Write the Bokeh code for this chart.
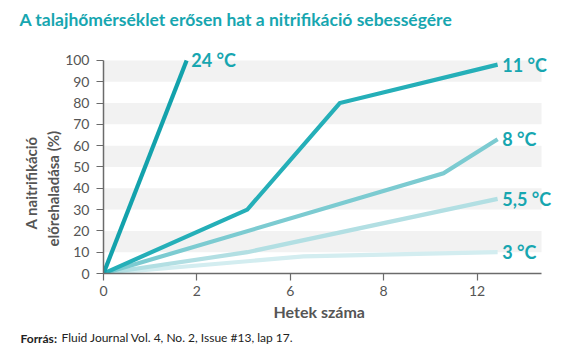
from bokeh.plotting import figure
from bokeh.models import Range1d, FixedTicker, Label, BoxAnnotation, Title
from bokeh.embed import file_html
from bokeh.resources import INLINE

# ---- data ----
x_tick_pos = [0, 1, 2, 3, 4]
x_tick_labels = ["0", "2", "6", "8", "12"]
y_ticks = [0, 10, 20, 30, 40, 50, 60, 70, 80, 90, 100]

series_names = ["24 °C", "11 °C", "8 °C", "5,5 °C", "3 °C"]
s24_x = [0, 0.89]
s24_y = [0, 100]
s11_x = [0, 1.54, 2.53, 4.22]
s11_y = [0, 30, 80, 98]
s8_x = [0, 3.64, 4.22]
s8_y = [0, 47, 63]
s55_x = [0, 1.54, 4.22]
s55_y = [0, 10, 35]
s3_x = [0, 2.14, 4.22]
s3_y = [0, 8, 10]

title_text = "A talajhőmérséklet erősen hat a nitrifikáció sebességére"
ylabel_lines = ["A naitrifikáció", "előrehaladása (%)"]
xlabel_text = "Hetek száma"
footer_bold = "Forrás:"
footer_text = "Fluid Journal Vol. 4, No. 2, Issue #13, lap 17."

colors = ["#13a2ac", "#25afb8", "#7ccbd1", "#b2dfe3", "#d3edf0"]
label_color = "#17a6b0"
gray = "#555555"

# geometry (pixels)
W, H = 561, 354
FL, FT, FB = 103, 34, 274
AX_END = 541            # where the axis/bands end
Y100 = 60               # pixel row of y = 100
X_AXIS_MAX = 4.69
PX_PER_X = (AX_END - FL) / X_AXIS_MAX
X_MAX = X_AXIS_MAX + (W - AX_END) / PX_PER_X
Y_MAX = 100 * (FB - FT) / (FB - Y100)

p = figure(width=W, height=H, output_backend="svg", toolbar_location=None,
           x_range=Range1d(0, X_MAX), y_range=Range1d(0, Y_MAX),
           min_border_left=FL, min_border_right=0,
           min_border_top=FT, min_border_bottom=H - FB)
p.outline_line_color = None
p.xgrid.visible = False
p.ygrid.visible = False
p.background_fill_color = "white"
p.border_fill_color = "white"

# title
p.title.text = title_text
p.title.align = "left"
p.title.offset = 19 - FL
p.title.text_color = label_color
p.title.text_font = "Lato"
p.title.text_font_style = "bold"
p.title.text_font_size = "17.5px"
p.title.standoff = 10

# alternating bands
for b in range(10, 100, 20):
    p.add_layout(BoxAnnotation(left=0, right=X_AXIS_MAX, bottom=b, top=b + 10,
                               fill_color="#f2f2f2", fill_alpha=1,
                               line_color=None, level="underlay"))

xs = [s3_x, s55_x, s8_x, s11_x, s24_x]
ys = [s3_y, s55_y, s8_y, s11_y, s24_y]
cols = colors[::-1]
for x, y, c in zip(xs, ys, cols):
    p.line(x, y, line_color=c, line_width=4.2, line_join="miter", line_cap="butt")

# axes
for ax in (p.xaxis[0], p.yaxis[0]):
    ax.axis_line_color = "#6b6b6b"
    ax.axis_line_width = 1.5
    ax.major_tick_line_color = "#6b6b6b"
    ax.major_tick_line_width = 1.2
    ax.major_tick_in = 0
    ax.major_tick_out = 7
    ax.minor_tick_line_color = None
    ax.major_label_text_color = gray
    ax.major_label_text_font = "Lato"
    ax.major_label_text_font_size = "14px"
    ax.major_label_text_font_style = "normal"

p.xaxis.ticker = FixedTicker(ticks=x_tick_pos)
p.xaxis.major_label_overrides = {t: l for t, l in zip(x_tick_pos, x_tick_labels)}
p.xaxis.bounds = (0, X_AXIS_MAX)
p.xaxis.major_label_standoff = 5
p.yaxis.ticker = FixedTicker(ticks=y_ticks)
p.yaxis.bounds = (0, 100)
p.yaxis.major_label_standoff = 7

# series labels
ends = [(s24_x, s24_y), (s11_x, s11_y), (s8_x, s8_y), (s55_x, s55_y), (s3_x, s3_y)]
for name, (x, y) in zip(series_names, ends):
    p.add_layout(Label(x=x[-1] + 0.05, y=y[-1], text=name, text_color=label_color,
                       text_font="Lato", text_font_style="bold",
                       text_font_size="18px", text_baseline="middle",
                       text_align="left"))

# y axis label: two stacked titles on the left
for line, off in ((ylabel_lines[1], 27), (ylabel_lines[0], 44)):
    p.add_layout(Title(text=line, align="left", offset=off, text_color=gray,
                       text_font="Lato", text_font_style="bold",
                       text_font_size="15px", standoff=2), "left")

# x axis label
p.add_layout(Title(text=xlabel_text, align="left", offset=170, text_color=gray,
                   text_font="Lato", text_font_style="bold", text_font_size="16px",
                   standoff=2), "below")

# footer: plain part, then bold prefix pulled back onto the same row
S1 = 16
p.add_layout(Title(text=footer_text, align="left", offset=61 - FL, text_color="#222222",
                   text_font="Lato", text_font_style="normal", text_font_size="12px",
                   vertical_align="top", standoff=S1), "below")
p.add_layout(Title(text=footer_bold, align="left", offset=20 - FL, text_color="#222222",
                   text_font="Lato", text_font_style="bold", text_font_size="12px",
                   vertical_align="top", standoff=-(S1 + 4 + 2 * 14)), "below")

open("out.html", "w").write(file_html(p, INLINE))
